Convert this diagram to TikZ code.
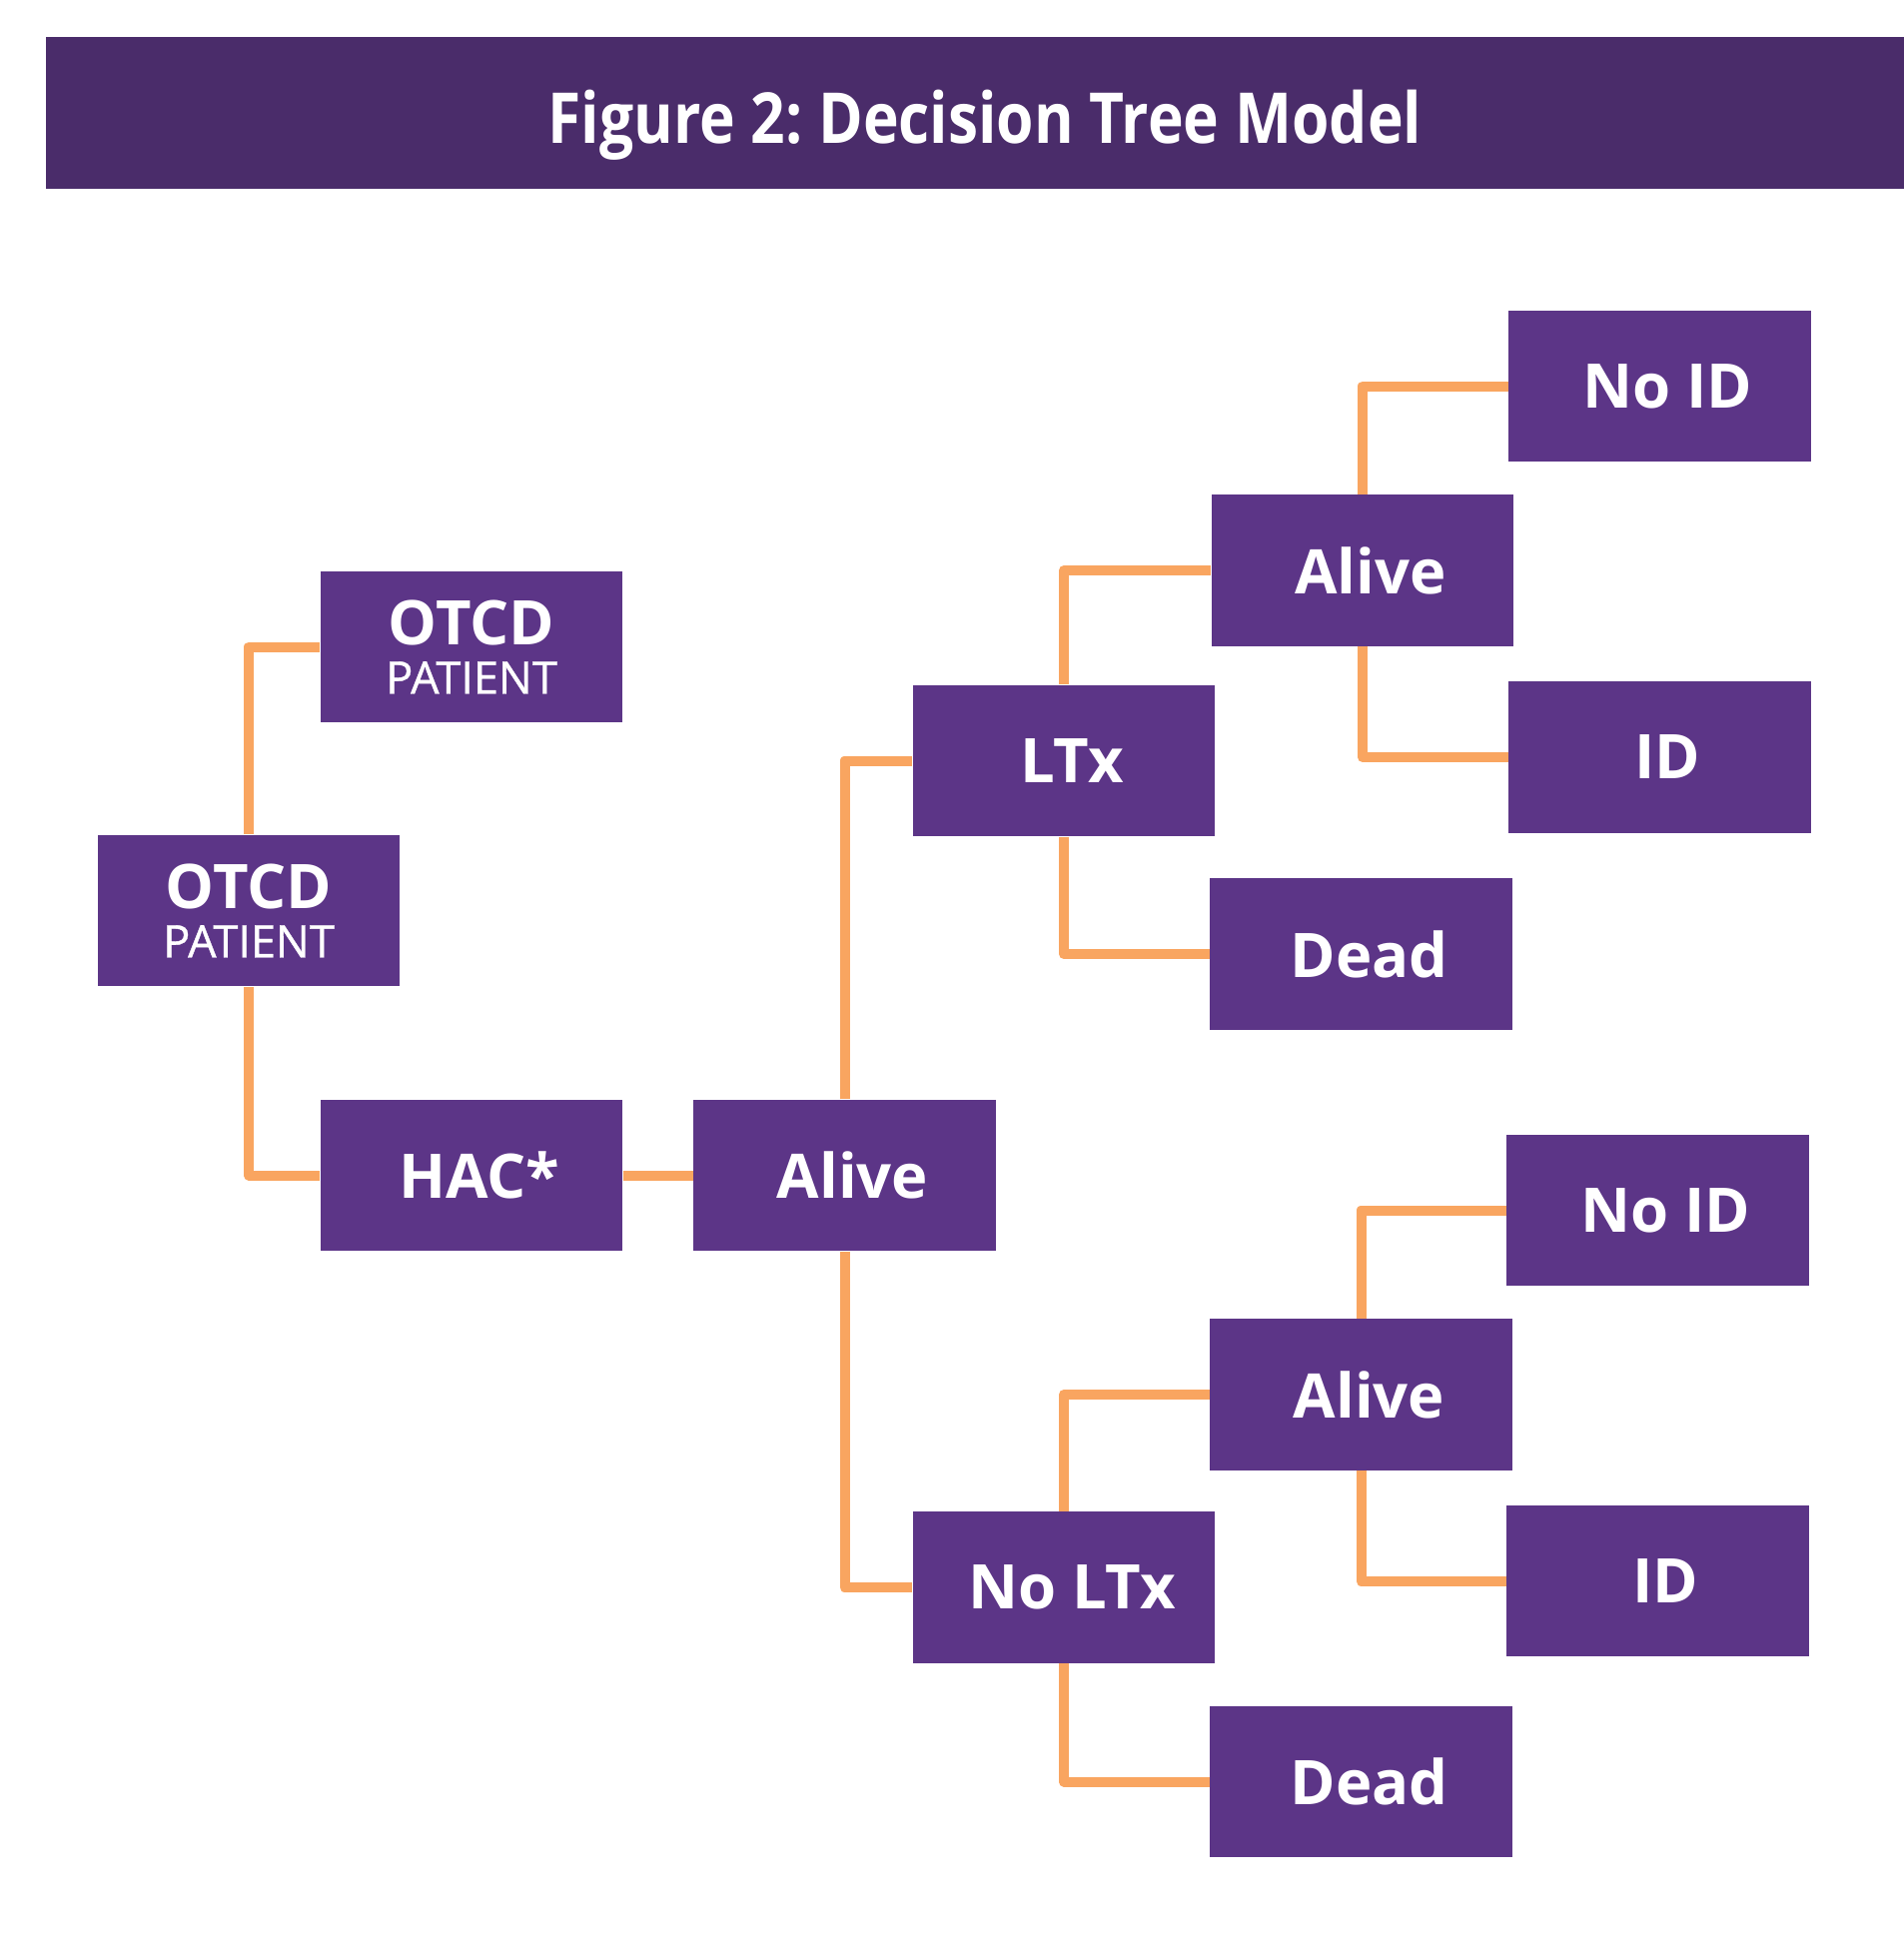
\documentclass[tikz,border=0pt]{standalone}
\usepackage{fontspec}
\setmainfont{Open Sans}
\usepackage{tikz}
\definecolor{barpurple}{RGB}{74,44,106}
\definecolor{boxpurple}{RGB}{92,53,135}
\definecolor{linkorange}{RGB}{249,165,96}
\frenchspacing

\begin{document}
\begin{tikzpicture}[x=0.01cm,y=-0.01cm,
    box/.style={fill=boxpurple, text=white, minimum width=3.02cm, minimum height=1.51cm,
      inner sep=0pt, font=\fontsize{17.5}{20}\selectfont\bfseries, align=center},
    tag/.style={box, execute at begin node={\hspace*{0.16cm}}},
    link/.style={draw=linkorange, line width=0.1cm, line join=round}]
    \useasboundingbox (0,0) rectangle (1906,1953);
    \fill[barpurple] (46,37) rectangle (1906,189);
    \node[text=white, font=\fontsize{20}{24}\selectfont\bfseries] (title) at (986,125)
      {\scalebox{0.86}[1]{Figure 2: Decision Tree Model}};
    % boxes
    \node[box] (otcd) at (249,911.5) {OTCD\\[-6pt]{\fontsize{12.8}{14}\selectfont\mdseries\addfontfeature{FakeBold=0.8}PATIENT}};
    \node[box] (otcdtop) at (472,647.5) {OTCD\\[-6pt]{\fontsize{12.8}{14}\selectfont\mdseries\addfontfeature{FakeBold=0.8}PATIENT}};
    \node[tag] (hac) at (472,1176.5) {HAC*};
    \node[tag] (alive) at (845.5,1176.5) {Alive};
    \node[tag] (ltx) at (1065,761.5) {LTx};
    \node[tag] (noltx) at (1065,1589) {No LTx};
    \node[tag] (aliveA) at (1364,571) {Alive};
    \node[tag] (deadA) at (1362.5,955) {Dead};
    \node[tag] (noidA) at (1661.5,386.5) {No ID};
    \node[tag] (idA) at (1661.5,758) {ID};
    \node[tag] (aliveB) at (1362.5,1396) {Alive};
    \node[tag] (deadB) at (1362.5,1783.5) {Dead};
    \node[tag] (noidB) at (1659.5,1211.5) {No ID};
    \node[tag] (idB) at (1659.5,1582.5) {ID};
    % links
    \draw[link] (otcd.north) |- (otcdtop.west);
    \draw[link] (otcd.south) |- (hac.west);
    \draw[link] (hac.east) -- (alive.west);
    \draw[link] (alive.north) |- (ltx.west);
    \draw[link] (alive.south) |- (noltx.west);
    \draw[link] (ltx.north) |- (aliveA.west);
    \draw[link] (ltx.south) |- (deadA.west);
    \draw[link] (aliveA.north) |- (noidA.west);
    \draw[link] (aliveA.south) |- (idA.west);
    \draw[link] (noltx.north) |- (aliveB.west);
    \draw[link] (noltx.south) |- (deadB.west);
    \draw[link] (aliveB.north) |- (noidB.west);
    \draw[link] (aliveB.south) |- (idB.west);
\end{tikzpicture}
\end{document}
